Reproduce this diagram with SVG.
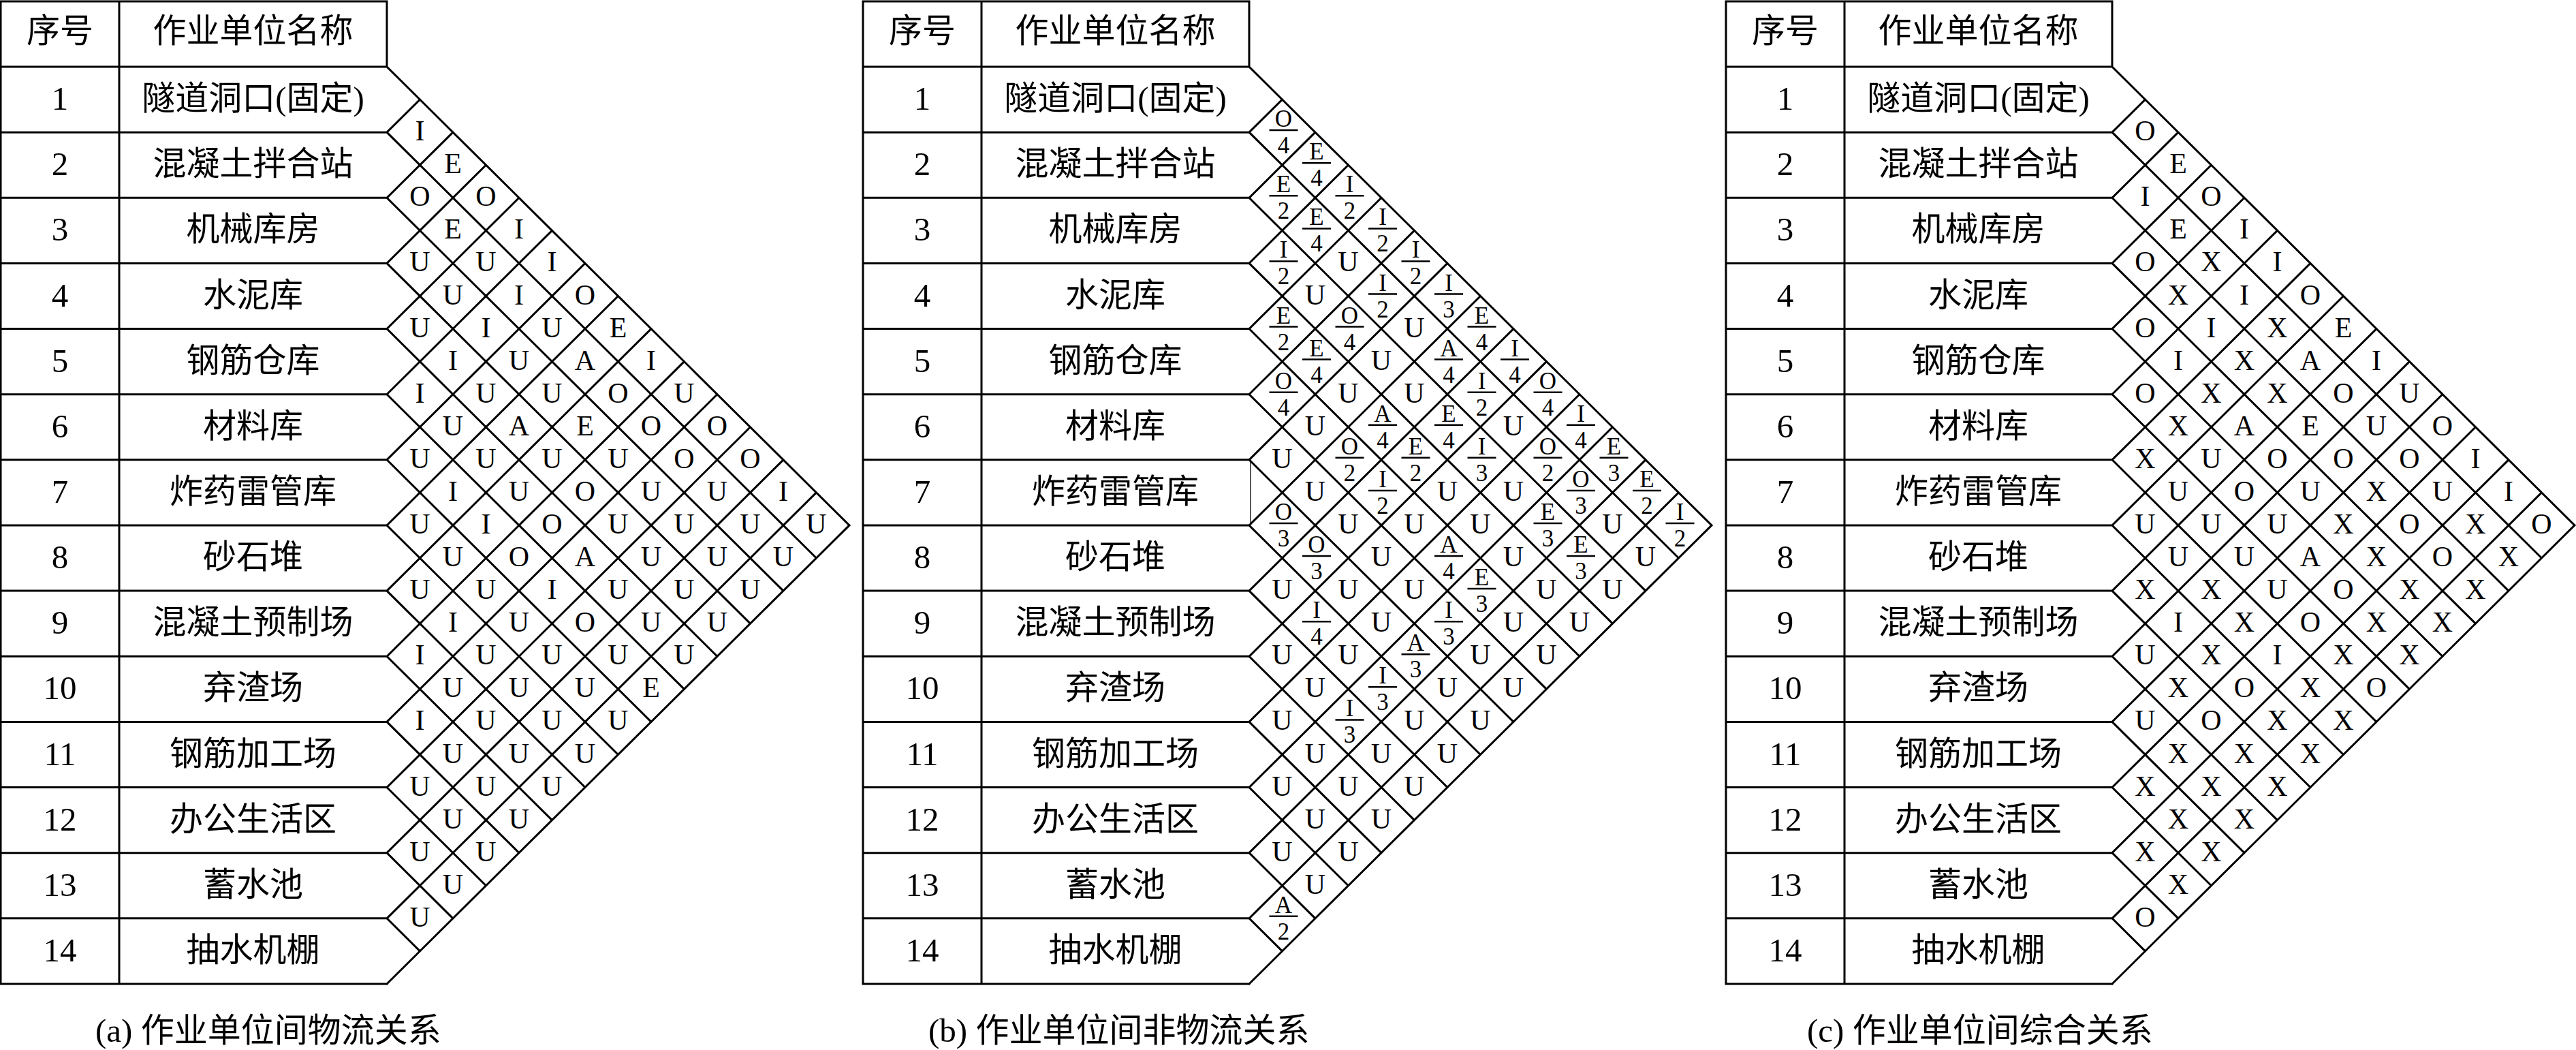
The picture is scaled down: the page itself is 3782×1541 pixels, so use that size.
<svg xmlns="http://www.w3.org/2000/svg" xmlns:xlink="http://www.w3.org/1999/xlink" width="3782" height="1541" viewBox="0 0 3782 1541">
<style>
.ln{fill:none;stroke:#000;stroke-width:3;stroke-linecap:square}
.t{font-family:"Liberation Serif","Noto Sans CJK SC",serif;font-size:49px;fill:#000;text-anchor:middle}
.cap{font-family:"Liberation Serif","Noto Sans CJK SC",serif;font-size:49px;fill:#000}
.l{font-family:"Liberation Serif",serif;font-size:42px;fill:#000;text-anchor:middle}
.f{font-family:"Liberation Serif",serif;font-size:35px;fill:#000;text-anchor:middle}
.bar{stroke:#000;stroke-width:2.5}
</style>
<defs>
<path id="frame" class="ln" d="M-567,2H0V98M-567,2V1444M-393,2V1444M-567,98H0M-567,194.14H0M-567,290.28H0M-567,386.42H0M-567,482.56H0M-567,578.7H0M-567,674.84H0M-567,770.98H0M-567,867.12H0M-567,963.26H0M-567,1059.4H0M-567,1155.54H0M-567,1251.68H0M-567,1347.82H0M-567,1443.96H0
M0,98L679,770.98M0,194.14L630.5,819.05M0,290.28L582,867.12M0,386.42L533.5,915.19M0,482.56L485,963.26M0,578.7L436.5,1011.33M0,674.84L388,1059.4M0,770.98L339.5,1107.47M0,867.12L291,1155.54M0,963.26L242.5,1203.61M0,1059.4L194,1251.68M0,1155.54L145.5,1299.75M0,1251.68L97,1347.82M0,1347.82L48.5,1395.89
M0,194.14L48.5,146.07M0,290.28L97,194.14M0,386.42L145.5,242.21M0,482.56L194,290.28M0,578.7L242.5,338.35M0,674.84L291,386.42M0,770.98L339.5,434.49M0,867.12L388,482.56M0,963.26L436.5,530.63M0,1059.4L485,578.7M0,1155.54L533.5,626.77M0,1251.68L582,674.84M0,1347.82L630.5,722.91M0,1443.96L679,770.98"/>
<line id="bar" class="bar" x1="-19" y1="-3" x2="23" y2="-3"/>
</defs>

<!-- Panel (a) -->
<g id="panel-a" transform="translate(568,0)">
<use href="#frame" xlink:href="#frame"/>
<g id="a-table">
<text class="t" x="-480" y="62">序号</text><text class="t" x="-196.5" y="62">作业单位名称</text>
<text class="t" x="-480" y="161.1">1</text><text class="t" x="-196.5" y="161.1">隧道洞口(固定)</text>
<text class="t" x="-480" y="257.2">2</text><text class="t" x="-196.5" y="257.2">混凝土拌合站</text>
<text class="t" x="-480" y="353.4">3</text><text class="t" x="-196.5" y="353.4">机械库房</text>
<text class="t" x="-480" y="449.5">4</text><text class="t" x="-196.5" y="449.5">水泥库</text>
<text class="t" x="-480" y="545.6">5</text><text class="t" x="-196.5" y="545.6">钢筋仓库</text>
<text class="t" x="-480" y="641.8">6</text><text class="t" x="-196.5" y="641.8">材料库</text>
<text class="t" x="-480" y="737.9">7</text><text class="t" x="-196.5" y="737.9">炸药雷管库</text>
<text class="t" x="-480" y="834.1">8</text><text class="t" x="-196.5" y="834.1">砂石堆</text>
<text class="t" x="-480" y="930.2">9</text><text class="t" x="-196.5" y="930.2">混凝土预制场</text>
<text class="t" x="-480" y="1026.3">10</text><text class="t" x="-196.5" y="1026.3">弃渣场</text>
<text class="t" x="-480" y="1122.5">11</text><text class="t" x="-196.5" y="1122.5">钢筋加工场</text>
<text class="t" x="-480" y="1218.6">12</text><text class="t" x="-196.5" y="1218.6">办公生活区</text>
<text class="t" x="-480" y="1314.8">13</text><text class="t" x="-196.5" y="1314.8">蓄水池</text>
<text class="t" x="-480" y="1410.9">14</text><text class="t" x="-196.5" y="1410.9">抽水机棚</text>
</g>
<g id="a-cells">
<text class="l" x="48.5" y="206.1">I</text>
<text class="l" x="97" y="254.2">E</text>
<text class="l" x="48.5" y="302.3">O</text><text class="l" x="145.5" y="302.3">O</text>
<text class="l" x="97" y="350.4">E</text><text class="l" x="194" y="350.4">I</text>
<text class="l" x="48.5" y="398.4">U</text><text class="l" x="145.5" y="398.4">U</text><text class="l" x="242.5" y="398.4">I</text>
<text class="l" x="97" y="446.5">U</text><text class="l" x="194" y="446.5">I</text><text class="l" x="291" y="446.5">O</text>
<text class="l" x="48.5" y="494.6">U</text><text class="l" x="145.5" y="494.6">I</text><text class="l" x="242.5" y="494.6">U</text><text class="l" x="339.5" y="494.6">E</text>
<text class="l" x="97" y="542.6">I</text><text class="l" x="194" y="542.6">U</text><text class="l" x="291" y="542.6">A</text><text class="l" x="388" y="542.6">I</text>
<text class="l" x="48.5" y="590.7">I</text><text class="l" x="145.5" y="590.7">U</text><text class="l" x="242.5" y="590.7">U</text><text class="l" x="339.5" y="590.7">O</text><text class="l" x="436.5" y="590.7">U</text>
<text class="l" x="97" y="638.8">U</text><text class="l" x="194" y="638.8">A</text><text class="l" x="291" y="638.8">E</text><text class="l" x="388" y="638.8">O</text><text class="l" x="485" y="638.8">O</text>
<text class="l" x="48.5" y="686.8">U</text><text class="l" x="145.5" y="686.8">U</text><text class="l" x="242.5" y="686.8">U</text><text class="l" x="339.5" y="686.8">U</text><text class="l" x="436.5" y="686.8">O</text><text class="l" x="533.5" y="686.8">O</text>
<text class="l" x="97" y="734.9">I</text><text class="l" x="194" y="734.9">U</text><text class="l" x="291" y="734.9">O</text><text class="l" x="388" y="734.9">U</text><text class="l" x="485" y="734.9">U</text><text class="l" x="582" y="734.9">I</text>
<text class="l" x="48.5" y="783">U</text><text class="l" x="145.5" y="783">I</text><text class="l" x="242.5" y="783">O</text><text class="l" x="339.5" y="783">U</text><text class="l" x="436.5" y="783">U</text><text class="l" x="533.5" y="783">U</text><text class="l" x="630.5" y="783">U</text>
<text class="l" x="97" y="831.1">U</text><text class="l" x="194" y="831.1">O</text><text class="l" x="291" y="831.1">A</text><text class="l" x="388" y="831.1">U</text><text class="l" x="485" y="831.1">U</text><text class="l" x="582" y="831.1">U</text>
<text class="l" x="48.5" y="879.1">U</text><text class="l" x="145.5" y="879.1">U</text><text class="l" x="242.5" y="879.1">I</text><text class="l" x="339.5" y="879.1">U</text><text class="l" x="436.5" y="879.1">U</text><text class="l" x="533.5" y="879.1">U</text>
<text class="l" x="97" y="927.2">I</text><text class="l" x="194" y="927.2">U</text><text class="l" x="291" y="927.2">O</text><text class="l" x="388" y="927.2">U</text><text class="l" x="485" y="927.2">U</text>
<text class="l" x="48.5" y="975.3">I</text><text class="l" x="145.5" y="975.3">U</text><text class="l" x="242.5" y="975.3">U</text><text class="l" x="339.5" y="975.3">U</text><text class="l" x="436.5" y="975.3">U</text>
<text class="l" x="97" y="1023.3">U</text><text class="l" x="194" y="1023.3">U</text><text class="l" x="291" y="1023.3">U</text><text class="l" x="388" y="1023.3">E</text>
<text class="l" x="48.5" y="1071.4">I</text><text class="l" x="145.5" y="1071.4">U</text><text class="l" x="242.5" y="1071.4">U</text><text class="l" x="339.5" y="1071.4">U</text>
<text class="l" x="97" y="1119.5">U</text><text class="l" x="194" y="1119.5">U</text><text class="l" x="291" y="1119.5">U</text>
<text class="l" x="48.5" y="1167.5">U</text><text class="l" x="145.5" y="1167.5">U</text><text class="l" x="242.5" y="1167.5">U</text>
<text class="l" x="97" y="1215.6">U</text><text class="l" x="194" y="1215.6">U</text>
<text class="l" x="48.5" y="1263.7">U</text><text class="l" x="145.5" y="1263.7">U</text>
<text class="l" x="97" y="1311.8">U</text>
<text class="l" x="48.5" y="1359.8">U</text>
</g>
</g>

<!-- Panel (b) -->
<g id="panel-b" transform="translate(1834,0)">
<use href="#frame" xlink:href="#frame"/>
<line x1="2" y1="674.84" x2="2" y2="770.98" stroke="#000" stroke-width="1.3"/>
<g id="b-table">
<text class="t" x="-480" y="62">序号</text><text class="t" x="-196.5" y="62">作业单位名称</text>
<text class="t" x="-480" y="161.1">1</text><text class="t" x="-196.5" y="161.1">隧道洞口(固定)</text>
<text class="t" x="-480" y="257.2">2</text><text class="t" x="-196.5" y="257.2">混凝土拌合站</text>
<text class="t" x="-480" y="353.4">3</text><text class="t" x="-196.5" y="353.4">机械库房</text>
<text class="t" x="-480" y="449.5">4</text><text class="t" x="-196.5" y="449.5">水泥库</text>
<text class="t" x="-480" y="545.6">5</text><text class="t" x="-196.5" y="545.6">钢筋仓库</text>
<text class="t" x="-480" y="641.8">6</text><text class="t" x="-196.5" y="641.8">材料库</text>
<text class="t" x="-480" y="737.9">7</text><text class="t" x="-196.5" y="737.9">炸药雷管库</text>
<text class="t" x="-480" y="834.1">8</text><text class="t" x="-196.5" y="834.1">砂石堆</text>
<text class="t" x="-480" y="930.2">9</text><text class="t" x="-196.5" y="930.2">混凝土预制场</text>
<text class="t" x="-480" y="1026.3">10</text><text class="t" x="-196.5" y="1026.3">弃渣场</text>
<text class="t" x="-480" y="1122.5">11</text><text class="t" x="-196.5" y="1122.5">钢筋加工场</text>
<text class="t" x="-480" y="1218.6">12</text><text class="t" x="-196.5" y="1218.6">办公生活区</text>
<text class="t" x="-480" y="1314.8">13</text><text class="t" x="-196.5" y="1314.8">蓄水池</text>
<text class="t" x="-480" y="1410.9">14</text><text class="t" x="-196.5" y="1410.9">抽水机棚</text>
</g>
<g id="b-cells">
<g transform="translate(48.5,194.1)"><use href="#bar" xlink:href="#bar"/><text class="f"><tspan x="2" y="-8">O</tspan><tspan x="2" y="31">4</tspan></text></g>
<g transform="translate(97,242.2)"><use href="#bar" xlink:href="#bar"/><text class="f"><tspan x="2" y="-8">E</tspan><tspan x="2" y="31">4</tspan></text></g>
<g transform="translate(48.5,290.3)"><use href="#bar" xlink:href="#bar"/><text class="f"><tspan x="2" y="-8">E</tspan><tspan x="2" y="31">2</tspan></text></g>
<g transform="translate(145.5,290.3)"><use href="#bar" xlink:href="#bar"/><text class="f"><tspan x="2" y="-8">I</tspan><tspan x="2" y="31">2</tspan></text></g>
<g transform="translate(97,338.4)"><use href="#bar" xlink:href="#bar"/><text class="f"><tspan x="2" y="-8">E</tspan><tspan x="2" y="31">4</tspan></text></g>
<g transform="translate(194,338.4)"><use href="#bar" xlink:href="#bar"/><text class="f"><tspan x="2" y="-8">I</tspan><tspan x="2" y="31">2</tspan></text></g>
<g transform="translate(48.5,386.4)"><use href="#bar" xlink:href="#bar"/><text class="f"><tspan x="2" y="-8">I</tspan><tspan x="2" y="31">2</tspan></text></g>
<text class="l" x="145.5" y="398.4">U</text>
<g transform="translate(242.5,386.4)"><use href="#bar" xlink:href="#bar"/><text class="f"><tspan x="2" y="-8">I</tspan><tspan x="2" y="31">2</tspan></text></g>
<text class="l" x="97" y="446.5">U</text>
<g transform="translate(194,434.5)"><use href="#bar" xlink:href="#bar"/><text class="f"><tspan x="2" y="-8">I</tspan><tspan x="2" y="31">2</tspan></text></g>
<g transform="translate(291,434.5)"><use href="#bar" xlink:href="#bar"/><text class="f"><tspan x="2" y="-8">I</tspan><tspan x="2" y="31">3</tspan></text></g>
<g transform="translate(48.5,482.6)"><use href="#bar" xlink:href="#bar"/><text class="f"><tspan x="2" y="-8">E</tspan><tspan x="2" y="31">2</tspan></text></g>
<g transform="translate(145.5,482.6)"><use href="#bar" xlink:href="#bar"/><text class="f"><tspan x="2" y="-8">O</tspan><tspan x="2" y="31">4</tspan></text></g>
<text class="l" x="242.5" y="494.6">U</text>
<g transform="translate(339.5,482.6)"><use href="#bar" xlink:href="#bar"/><text class="f"><tspan x="2" y="-8">E</tspan><tspan x="2" y="31">4</tspan></text></g>
<g transform="translate(97,530.6)"><use href="#bar" xlink:href="#bar"/><text class="f"><tspan x="2" y="-8">E</tspan><tspan x="2" y="31">4</tspan></text></g>
<text class="l" x="194" y="542.6">U</text>
<g transform="translate(291,530.6)"><use href="#bar" xlink:href="#bar"/><text class="f"><tspan x="2" y="-8">A</tspan><tspan x="2" y="31">4</tspan></text></g>
<g transform="translate(388,530.6)"><use href="#bar" xlink:href="#bar"/><text class="f"><tspan x="2" y="-8">I</tspan><tspan x="2" y="31">4</tspan></text></g>
<g transform="translate(48.5,578.7)"><use href="#bar" xlink:href="#bar"/><text class="f"><tspan x="2" y="-8">O</tspan><tspan x="2" y="31">4</tspan></text></g>
<text class="l" x="145.5" y="590.7">U</text><text class="l" x="242.5" y="590.7">U</text>
<g transform="translate(339.5,578.7)"><use href="#bar" xlink:href="#bar"/><text class="f"><tspan x="2" y="-8">I</tspan><tspan x="2" y="31">2</tspan></text></g>
<g transform="translate(436.5,578.7)"><use href="#bar" xlink:href="#bar"/><text class="f"><tspan x="2" y="-8">O</tspan><tspan x="2" y="31">4</tspan></text></g>
<text class="l" x="97" y="638.8">U</text>
<g transform="translate(194,626.8)"><use href="#bar" xlink:href="#bar"/><text class="f"><tspan x="2" y="-8">A</tspan><tspan x="2" y="31">4</tspan></text></g>
<g transform="translate(291,626.8)"><use href="#bar" xlink:href="#bar"/><text class="f"><tspan x="2" y="-8">E</tspan><tspan x="2" y="31">4</tspan></text></g>
<text class="l" x="388" y="638.8">U</text>
<g transform="translate(485,626.8)"><use href="#bar" xlink:href="#bar"/><text class="f"><tspan x="2" y="-8">I</tspan><tspan x="2" y="31">4</tspan></text></g>
<text class="l" x="48.5" y="686.8">U</text>
<g transform="translate(145.5,674.8)"><use href="#bar" xlink:href="#bar"/><text class="f"><tspan x="2" y="-8">O</tspan><tspan x="2" y="31">2</tspan></text></g>
<g transform="translate(242.5,674.8)"><use href="#bar" xlink:href="#bar"/><text class="f"><tspan x="2" y="-8">E</tspan><tspan x="2" y="31">2</tspan></text></g>
<g transform="translate(339.5,674.8)"><use href="#bar" xlink:href="#bar"/><text class="f"><tspan x="2" y="-8">I</tspan><tspan x="2" y="31">3</tspan></text></g>
<g transform="translate(436.5,674.8)"><use href="#bar" xlink:href="#bar"/><text class="f"><tspan x="2" y="-8">O</tspan><tspan x="2" y="31">2</tspan></text></g>
<g transform="translate(533.5,674.8)"><use href="#bar" xlink:href="#bar"/><text class="f"><tspan x="2" y="-8">E</tspan><tspan x="2" y="31">3</tspan></text></g>
<text class="l" x="97" y="734.9">U</text>
<g transform="translate(194,722.9)"><use href="#bar" xlink:href="#bar"/><text class="f"><tspan x="2" y="-8">I</tspan><tspan x="2" y="31">2</tspan></text></g>
<text class="l" x="291" y="734.9">U</text><text class="l" x="388" y="734.9">U</text>
<g transform="translate(485,722.9)"><use href="#bar" xlink:href="#bar"/><text class="f"><tspan x="2" y="-8">O</tspan><tspan x="2" y="31">3</tspan></text></g>
<g transform="translate(582,722.9)"><use href="#bar" xlink:href="#bar"/><text class="f"><tspan x="2" y="-8">E</tspan><tspan x="2" y="31">2</tspan></text></g>
<g transform="translate(48.5,771)"><use href="#bar" xlink:href="#bar"/><text class="f"><tspan x="2" y="-8">O</tspan><tspan x="2" y="31">3</tspan></text></g>
<text class="l" x="145.5" y="783">U</text><text class="l" x="242.5" y="783">U</text><text class="l" x="339.5" y="783">U</text>
<g transform="translate(436.5,771)"><use href="#bar" xlink:href="#bar"/><text class="f"><tspan x="2" y="-8">E</tspan><tspan x="2" y="31">3</tspan></text></g>
<text class="l" x="533.5" y="783">U</text>
<g transform="translate(630.5,771)"><use href="#bar" xlink:href="#bar"/><text class="f"><tspan x="2" y="-8">I</tspan><tspan x="2" y="31">2</tspan></text></g>
<g transform="translate(97,819.1)"><use href="#bar" xlink:href="#bar"/><text class="f"><tspan x="2" y="-8">O</tspan><tspan x="2" y="31">3</tspan></text></g>
<text class="l" x="194" y="831.1">U</text>
<g transform="translate(291,819.1)"><use href="#bar" xlink:href="#bar"/><text class="f"><tspan x="2" y="-8">A</tspan><tspan x="2" y="31">4</tspan></text></g>
<text class="l" x="388" y="831.1">U</text>
<g transform="translate(485,819.1)"><use href="#bar" xlink:href="#bar"/><text class="f"><tspan x="2" y="-8">E</tspan><tspan x="2" y="31">3</tspan></text></g>
<text class="l" x="582" y="831.1">U</text>
<text class="l" x="48.5" y="879.1">U</text><text class="l" x="145.5" y="879.1">U</text><text class="l" x="242.5" y="879.1">U</text>
<g transform="translate(339.5,867.1)"><use href="#bar" xlink:href="#bar"/><text class="f"><tspan x="2" y="-8">E</tspan><tspan x="2" y="31">3</tspan></text></g>
<text class="l" x="436.5" y="879.1">U</text><text class="l" x="533.5" y="879.1">U</text>
<g transform="translate(97,915.2)"><use href="#bar" xlink:href="#bar"/><text class="f"><tspan x="2" y="-8">I</tspan><tspan x="2" y="31">4</tspan></text></g>
<text class="l" x="194" y="927.2">U</text>
<g transform="translate(291,915.2)"><use href="#bar" xlink:href="#bar"/><text class="f"><tspan x="2" y="-8">I</tspan><tspan x="2" y="31">3</tspan></text></g>
<text class="l" x="388" y="927.2">U</text><text class="l" x="485" y="927.2">U</text>
<text class="l" x="48.5" y="975.3">U</text><text class="l" x="145.5" y="975.3">U</text>
<g transform="translate(242.5,963.3)"><use href="#bar" xlink:href="#bar"/><text class="f"><tspan x="2" y="-8">A</tspan><tspan x="2" y="31">3</tspan></text></g>
<text class="l" x="339.5" y="975.3">U</text><text class="l" x="436.5" y="975.3">U</text>
<text class="l" x="97" y="1023.3">U</text>
<g transform="translate(194,1011.3)"><use href="#bar" xlink:href="#bar"/><text class="f"><tspan x="2" y="-8">I</tspan><tspan x="2" y="31">3</tspan></text></g>
<text class="l" x="291" y="1023.3">U</text><text class="l" x="388" y="1023.3">U</text>
<text class="l" x="48.5" y="1071.4">U</text>
<g transform="translate(145.5,1059.4)"><use href="#bar" xlink:href="#bar"/><text class="f"><tspan x="2" y="-8">I</tspan><tspan x="2" y="31">3</tspan></text></g>
<text class="l" x="242.5" y="1071.4">U</text><text class="l" x="339.5" y="1071.4">U</text>
<text class="l" x="97" y="1119.5">U</text><text class="l" x="194" y="1119.5">U</text><text class="l" x="291" y="1119.5">U</text>
<text class="l" x="48.5" y="1167.5">U</text><text class="l" x="145.5" y="1167.5">U</text><text class="l" x="242.5" y="1167.5">U</text>
<text class="l" x="97" y="1215.6">U</text><text class="l" x="194" y="1215.6">U</text>
<text class="l" x="48.5" y="1263.7">U</text><text class="l" x="145.5" y="1263.7">U</text>
<text class="l" x="97" y="1311.8">U</text>
<g transform="translate(48.5,1347.8)"><use href="#bar" xlink:href="#bar"/><text class="f"><tspan x="2" y="-8">A</tspan><tspan x="2" y="31">2</tspan></text></g>
</g>
</g>

<!-- Panel (c) -->
<g id="panel-c" transform="translate(3101,0)">
<use href="#frame" xlink:href="#frame"/>
<g id="c-table">
<text class="t" x="-480" y="62">序号</text><text class="t" x="-196.5" y="62">作业单位名称</text>
<text class="t" x="-480" y="161.1">1</text><text class="t" x="-196.5" y="161.1">隧道洞口(固定)</text>
<text class="t" x="-480" y="257.2">2</text><text class="t" x="-196.5" y="257.2">混凝土拌合站</text>
<text class="t" x="-480" y="353.4">3</text><text class="t" x="-196.5" y="353.4">机械库房</text>
<text class="t" x="-480" y="449.5">4</text><text class="t" x="-196.5" y="449.5">水泥库</text>
<text class="t" x="-480" y="545.6">5</text><text class="t" x="-196.5" y="545.6">钢筋仓库</text>
<text class="t" x="-480" y="641.8">6</text><text class="t" x="-196.5" y="641.8">材料库</text>
<text class="t" x="-480" y="737.9">7</text><text class="t" x="-196.5" y="737.9">炸药雷管库</text>
<text class="t" x="-480" y="834.1">8</text><text class="t" x="-196.5" y="834.1">砂石堆</text>
<text class="t" x="-480" y="930.2">9</text><text class="t" x="-196.5" y="930.2">混凝土预制场</text>
<text class="t" x="-480" y="1026.3">10</text><text class="t" x="-196.5" y="1026.3">弃渣场</text>
<text class="t" x="-480" y="1122.5">11</text><text class="t" x="-196.5" y="1122.5">钢筋加工场</text>
<text class="t" x="-480" y="1218.6">12</text><text class="t" x="-196.5" y="1218.6">办公生活区</text>
<text class="t" x="-480" y="1314.8">13</text><text class="t" x="-196.5" y="1314.8">蓄水池</text>
<text class="t" x="-480" y="1410.9">14</text><text class="t" x="-196.5" y="1410.9">抽水机棚</text>
</g>
<g id="c-cells">
<text class="l" x="48.5" y="206.1">O</text>
<text class="l" x="97" y="254.2">E</text>
<text class="l" x="48.5" y="302.3">I</text><text class="l" x="145.5" y="302.3">O</text>
<text class="l" x="97" y="350.4">E</text><text class="l" x="194" y="350.4">I</text>
<text class="l" x="48.5" y="398.4">O</text><text class="l" x="145.5" y="398.4">X</text><text class="l" x="242.5" y="398.4">I</text>
<text class="l" x="97" y="446.5">X</text><text class="l" x="194" y="446.5">I</text><text class="l" x="291" y="446.5">O</text>
<text class="l" x="48.5" y="494.6">O</text><text class="l" x="145.5" y="494.6">I</text><text class="l" x="242.5" y="494.6">X</text><text class="l" x="339.5" y="494.6">E</text>
<text class="l" x="97" y="542.6">I</text><text class="l" x="194" y="542.6">X</text><text class="l" x="291" y="542.6">A</text><text class="l" x="388" y="542.6">I</text>
<text class="l" x="48.5" y="590.7">O</text><text class="l" x="145.5" y="590.7">X</text><text class="l" x="242.5" y="590.7">X</text><text class="l" x="339.5" y="590.7">O</text><text class="l" x="436.5" y="590.7">U</text>
<text class="l" x="97" y="638.8">X</text><text class="l" x="194" y="638.8">A</text><text class="l" x="291" y="638.8">E</text><text class="l" x="388" y="638.8">U</text><text class="l" x="485" y="638.8">O</text>
<text class="l" x="48.5" y="686.8">X</text><text class="l" x="145.5" y="686.8">U</text><text class="l" x="242.5" y="686.8">O</text><text class="l" x="339.5" y="686.8">O</text><text class="l" x="436.5" y="686.8">O</text><text class="l" x="533.5" y="686.8">I</text>
<text class="l" x="97" y="734.9">U</text><text class="l" x="194" y="734.9">O</text><text class="l" x="291" y="734.9">U</text><text class="l" x="388" y="734.9">X</text><text class="l" x="485" y="734.9">U</text><text class="l" x="582" y="734.9">I</text>
<text class="l" x="48.5" y="783">U</text><text class="l" x="145.5" y="783">U</text><text class="l" x="242.5" y="783">U</text><text class="l" x="339.5" y="783">X</text><text class="l" x="436.5" y="783">O</text><text class="l" x="533.5" y="783">X</text><text class="l" x="630.5" y="783">O</text>
<text class="l" x="97" y="831.1">U</text><text class="l" x="194" y="831.1">U</text><text class="l" x="291" y="831.1">A</text><text class="l" x="388" y="831.1">X</text><text class="l" x="485" y="831.1">O</text><text class="l" x="582" y="831.1">X</text>
<text class="l" x="48.5" y="879.1">X</text><text class="l" x="145.5" y="879.1">X</text><text class="l" x="242.5" y="879.1">U</text><text class="l" x="339.5" y="879.1">O</text><text class="l" x="436.5" y="879.1">X</text><text class="l" x="533.5" y="879.1">X</text>
<text class="l" x="97" y="927.2">I</text><text class="l" x="194" y="927.2">X</text><text class="l" x="291" y="927.2">O</text><text class="l" x="388" y="927.2">X</text><text class="l" x="485" y="927.2">X</text>
<text class="l" x="48.5" y="975.3">U</text><text class="l" x="145.5" y="975.3">X</text><text class="l" x="242.5" y="975.3">I</text><text class="l" x="339.5" y="975.3">X</text><text class="l" x="436.5" y="975.3">X</text>
<text class="l" x="97" y="1023.3">X</text><text class="l" x="194" y="1023.3">O</text><text class="l" x="291" y="1023.3">X</text><text class="l" x="388" y="1023.3">O</text>
<text class="l" x="48.5" y="1071.4">U</text><text class="l" x="145.5" y="1071.4">O</text><text class="l" x="242.5" y="1071.4">X</text><text class="l" x="339.5" y="1071.4">X</text>
<text class="l" x="97" y="1119.5">X</text><text class="l" x="194" y="1119.5">X</text><text class="l" x="291" y="1119.5">X</text>
<text class="l" x="48.5" y="1167.5">X</text><text class="l" x="145.5" y="1167.5">X</text><text class="l" x="242.5" y="1167.5">X</text>
<text class="l" x="97" y="1215.6">X</text><text class="l" x="194" y="1215.6">X</text>
<text class="l" x="48.5" y="1263.7">X</text><text class="l" x="145.5" y="1263.7">X</text>
<text class="l" x="97" y="1311.8">X</text>
<text class="l" x="48.5" y="1359.8">O</text>
</g>
</g>

<g id="captions">
<text class="cap" x="140" y="1529">(a) 作业单位间物流关系</text>
<text class="cap" x="1363" y="1529">(b) 作业单位间非物流关系</text>
<text class="cap" x="2653" y="1529">(c) 作业单位间综合关系</text>
</g>
</svg>
